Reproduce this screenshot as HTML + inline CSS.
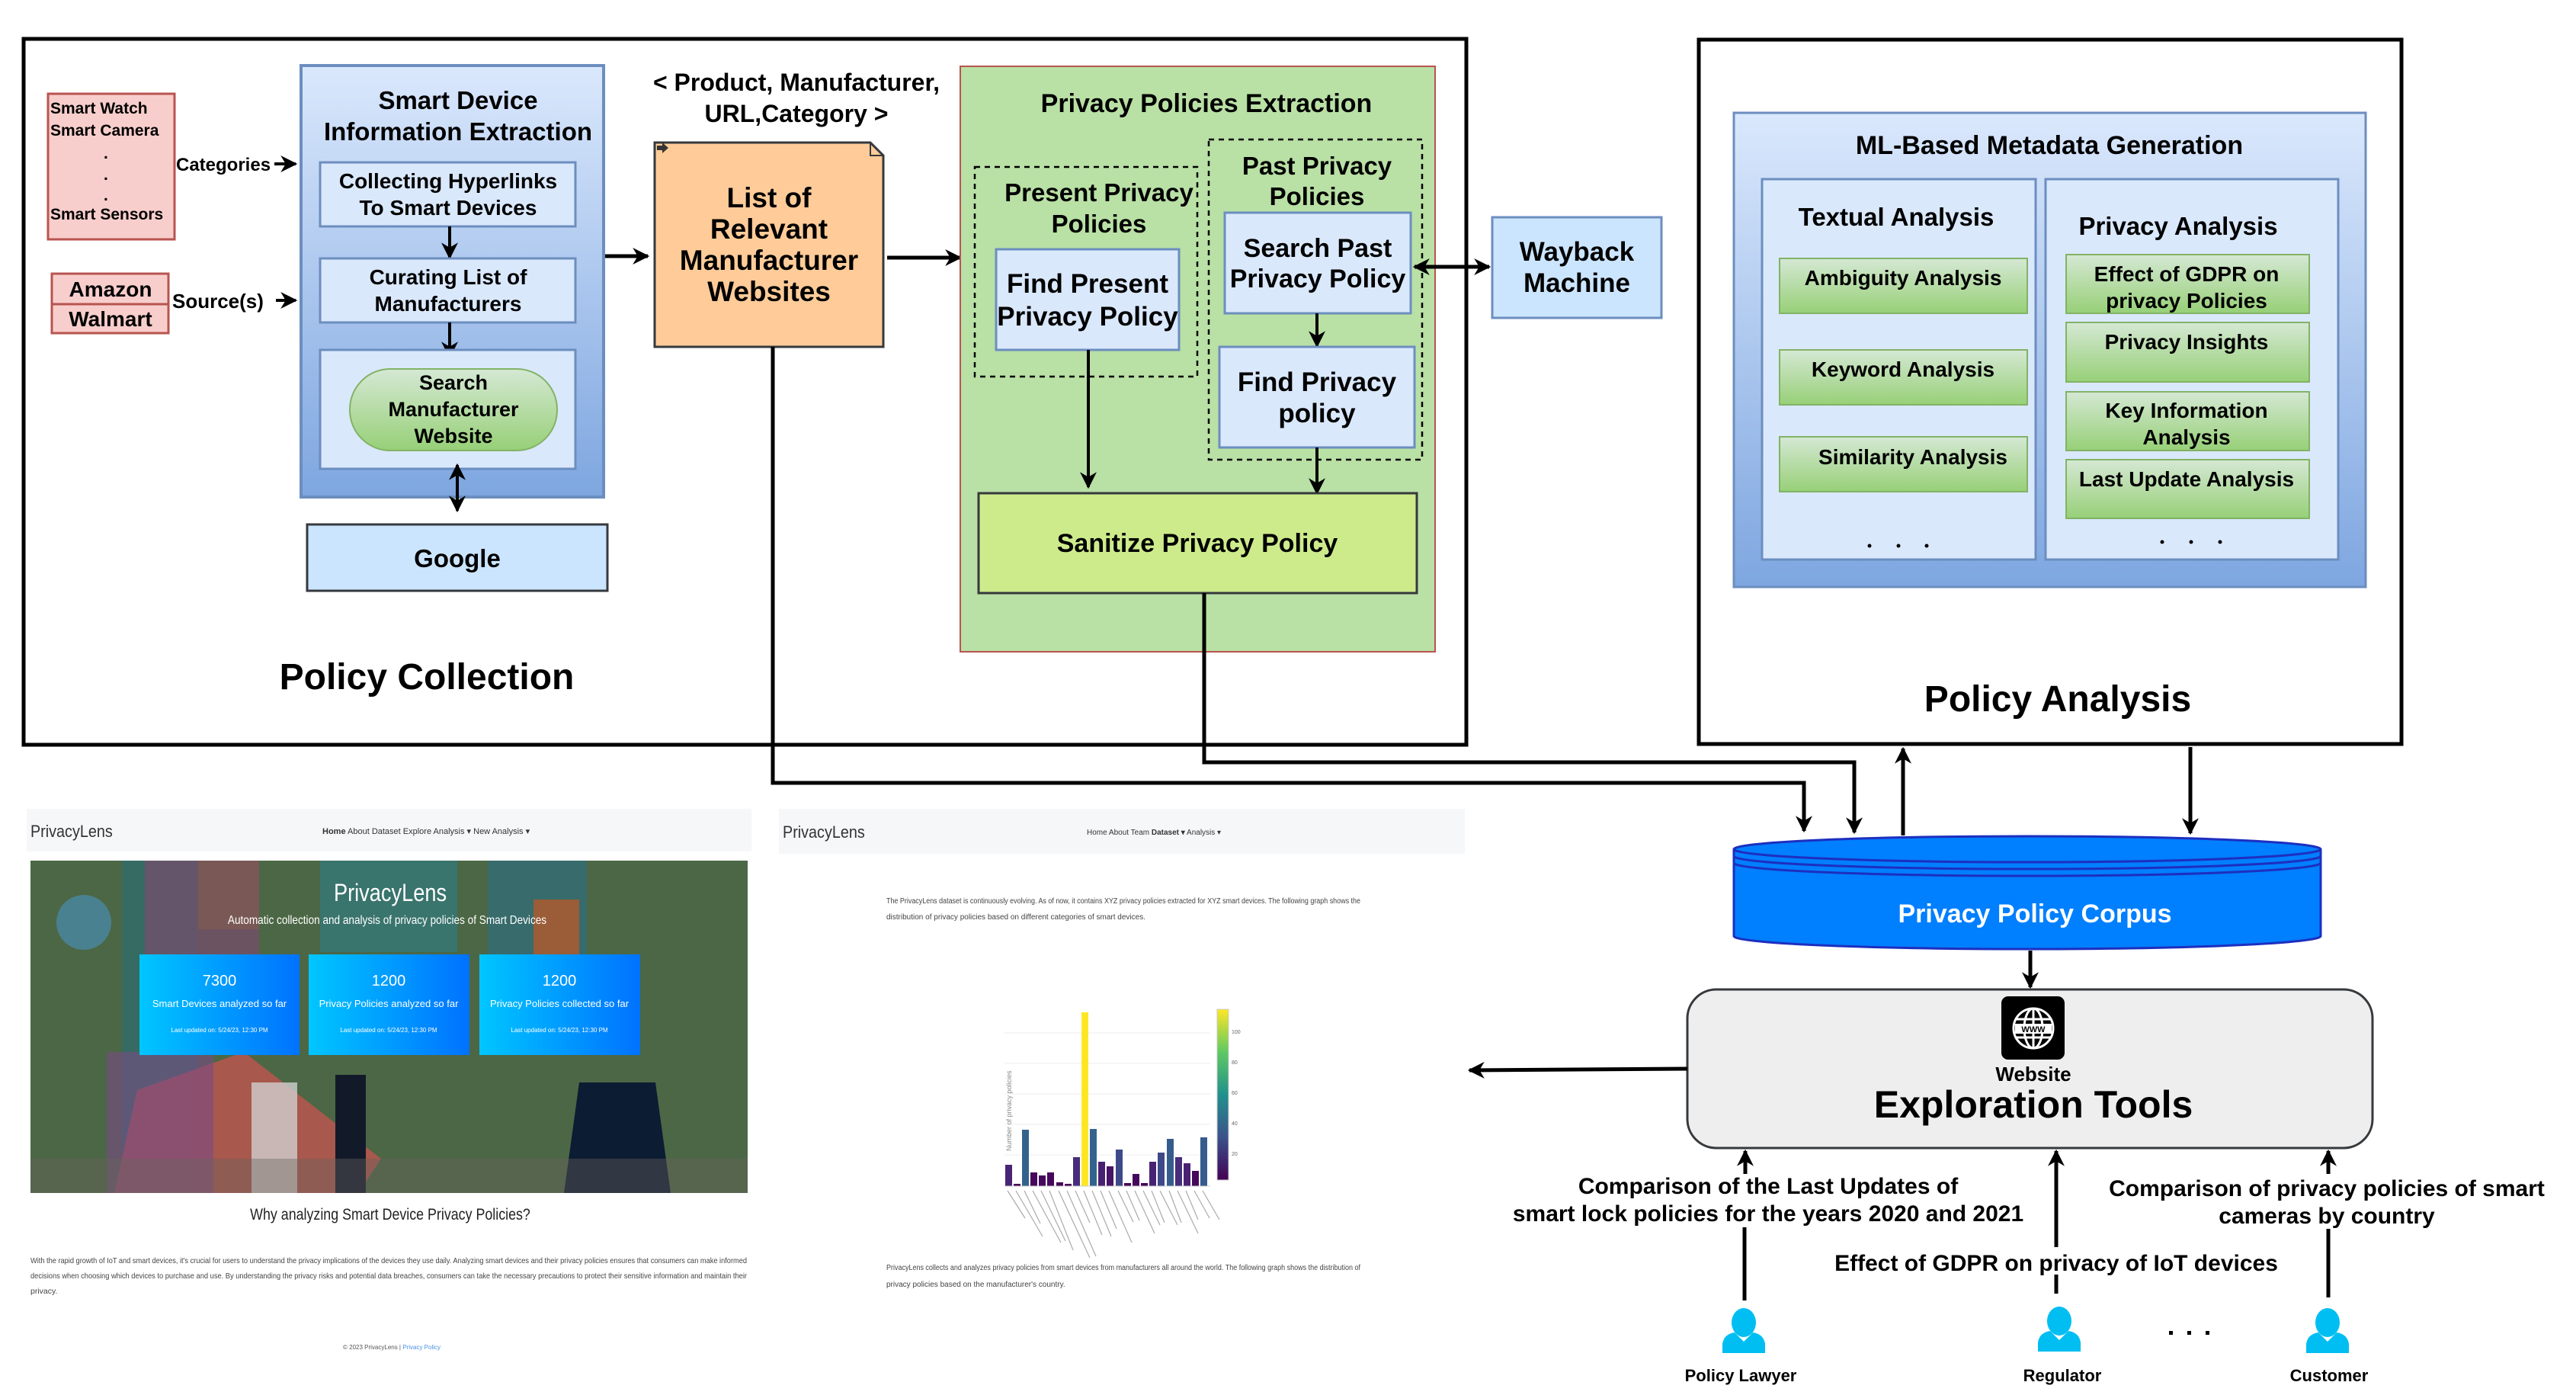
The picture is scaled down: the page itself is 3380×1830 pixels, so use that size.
<!DOCTYPE html>
<html><head><meta charset="utf-8">
<style>
html,body{margin:0;padding:0;background:#fff;}
svg{display:block;}
text{font-family:"Liberation Sans",Arial,sans-serif;}
.b{font-weight:bold;}
</style></head>
<body>
<svg width="3380" height="1830" viewBox="0 0 3380 1830" xmlns="http://www.w3.org/2000/svg">
<defs>
<marker id="ah" markerWidth="10" markerHeight="10" refX="8" refY="5" orient="auto" markerUnits="userSpaceOnUse" viewBox="0 0 10 10">
</marker>
<marker id="a" viewBox="0 0 20 20" refX="18" refY="10" markerWidth="22" markerHeight="22" orient="auto-start-reverse" markerUnits="userSpaceOnUse">
<path d="M0,0 L20,10 L0,20 L6,10 Z" fill="#000"/>
</marker>
<linearGradient id="gBlue" x1="0" y1="0" x2="0" y2="1"><stop offset="0" stop-color="#dae8fc"/><stop offset="1" stop-color="#7ea6e0"/></linearGradient>
<linearGradient id="gGreen" x1="0" y1="0" x2="0" y2="1"><stop offset="0" stop-color="#d5e8d4"/><stop offset="1" stop-color="#97d077"/></linearGradient>
<linearGradient id="gCard" x1="0" y1="0" x2="1" y2="0"><stop offset="0" stop-color="#00c6ff"/><stop offset="1" stop-color="#0072ff"/></linearGradient>
<linearGradient id="gViridis" x1="0" y1="1" x2="0" y2="0"><stop offset="0" stop-color="#440154"/><stop offset="0.25" stop-color="#3b528b"/><stop offset="0.5" stop-color="#21918c"/><stop offset="0.75" stop-color="#5ec962"/><stop offset="1" stop-color="#fde725"/></linearGradient>
</defs>

<!-- ========== POLICY COLLECTION ========== -->
<rect x="31" y="51" width="1893" height="926" fill="#fff" stroke="#000" stroke-width="5"/>

<!-- pink categories -->
<rect x="63" y="123" width="166" height="191" fill="#f8cecc" stroke="#b85450" stroke-width="3"/>
<g class="b" font-size="21">
<text x="66" y="149" class="b">Smart Watch</text>
<text x="66" y="178" class="b">Smart Camera</text>
<text x="136" y="208" class="b">.</text>
<text x="136" y="236" class="b">.</text>
<text x="136" y="263" class="b">.</text>
<text x="66" y="288" class="b">Smart Sensors</text>
</g>
<rect x="68" y="359" width="153" height="40" fill="#f8cecc" stroke="#b85450" stroke-width="3"/>
<rect x="68" y="399" width="153" height="38" fill="#f8cecc" stroke="#b85450" stroke-width="3"/>
<text x="145" y="389" font-size="28" text-anchor="middle" class="b">Amazon</text>
<text x="145" y="428" font-size="28" text-anchor="middle" class="b">Walmart</text>
<text x="231" y="224" font-size="24" class="b">Categories</text>
<line x1="360" y1="215" x2="388" y2="215" stroke="#000" stroke-width="4" marker-end="url(#a)"/>
<text x="226" y="404" font-size="26" class="b">Source(s)</text>
<line x1="362" y1="394" x2="388" y2="394" stroke="#000" stroke-width="4" marker-end="url(#a)"/>

<!-- Smart device info extraction -->
<rect x="395" y="86" width="397" height="566" fill="url(#gBlue)" stroke="#6c8ebf" stroke-width="4"/>
<text x="601" y="143" font-size="33" text-anchor="middle" class="b">Smart Device</text>
<text x="601" y="184" font-size="33" text-anchor="middle" class="b">Information Extraction</text>
<rect x="420" y="213" width="335" height="84" fill="#dae8fc" stroke="#6c8ebf" stroke-width="3"/>
<text x="588" y="247" font-size="28" text-anchor="middle" class="b">Collecting Hyperlinks</text>
<text x="588" y="282" font-size="28" text-anchor="middle" class="b">To Smart Devices</text>
<line x1="590" y1="297" x2="590" y2="338" stroke="#000" stroke-width="4" marker-end="url(#a)"/>
<rect x="420" y="339" width="335" height="84" fill="#dae8fc" stroke="#6c8ebf" stroke-width="3"/>
<text x="588" y="373" font-size="28" text-anchor="middle" class="b">Curating List of</text>
<text x="588" y="408" font-size="28" text-anchor="middle" class="b">Manufacturers</text>
<line x1="590" y1="423" x2="590" y2="468" stroke="#000" stroke-width="4" marker-end="url(#a)"/>
<rect x="420" y="459" width="335" height="156" fill="#dae8fc" stroke="#6c8ebf" stroke-width="3"/>
<rect x="459" y="484" width="272" height="107" rx="53" ry="53" fill="url(#gGreen)" stroke="#82b366" stroke-width="2"/>
<text x="595" y="511" font-size="27" text-anchor="middle" class="b">Search</text>
<text x="595" y="546" font-size="27" text-anchor="middle" class="b">Manufacturer</text>
<text x="595" y="581" font-size="27" text-anchor="middle" class="b">Website</text>
<line x1="600" y1="610" x2="600" y2="670" stroke="#000" stroke-width="4" marker-end="url(#a)" marker-start="url(#a)"/>
<rect x="403" y="688" width="394" height="87" fill="#cce5ff" stroke="#36393d" stroke-width="3"/>
<text x="600" y="744" font-size="33" text-anchor="middle" class="b">Google</text>

<line x1="794" y1="336" x2="850" y2="336" stroke="#000" stroke-width="5" marker-end="url(#a)"/>

<!-- list doc -->
<text x="1045" y="119" font-size="32" text-anchor="middle" class="b">&lt; Product, Manufacturer,</text>
<text x="1045" y="160" font-size="32" text-anchor="middle" class="b">URL,Category &gt;</text>
<path d="M859,187 H1142 L1159,204 V455 H859 Z" fill="#ffcc99" stroke="#36393d" stroke-width="3"/>
<path d="M1142,187 V204 H1159" fill="none" stroke="#36393d" stroke-width="2"/>
<path d="M862,191 h7 v-4 l8,7 -8,7 v-4 h-7 z" fill="#333"/>
<text x="1009" y="272" font-size="37" text-anchor="middle" class="b">List of</text>
<text x="1009" y="313" font-size="37" text-anchor="middle" class="b">Relevant</text>
<text x="1009" y="354" font-size="37" text-anchor="middle" class="b">Manufacturer</text>
<text x="1009" y="395" font-size="37" text-anchor="middle" class="b">Websites</text>
<line x1="1164" y1="338" x2="1260" y2="338" stroke="#000" stroke-width="5" marker-end="url(#a)"/>

<!-- Privacy policies extraction -->
<rect x="1260" y="87" width="623" height="768" fill="#b9e0a5" stroke="#b85450" stroke-width="2"/>
<text x="1583" y="147" font-size="34" text-anchor="middle" class="b">Privacy Policies Extraction</text>
<rect x="1279" y="219" width="292" height="275" fill="none" stroke="#000" stroke-width="2.5" stroke-dasharray="7,6"/>
<text x="1442" y="264" font-size="33" text-anchor="middle" class="b">Present Privacy</text>
<text x="1442" y="305" font-size="33" text-anchor="middle" class="b">Policies</text>
<rect x="1307" y="327" width="240" height="132" fill="#dae8fc" stroke="#6c8ebf" stroke-width="3"/>
<text x="1427" y="384" font-size="35" text-anchor="middle" class="b">Find Present</text>
<text x="1427" y="427" font-size="35" text-anchor="middle" class="b">Privacy Policy</text>
<rect x="1586" y="183" width="280" height="420" fill="none" stroke="#000" stroke-width="2.5" stroke-dasharray="7,6"/>
<text x="1728" y="229" font-size="33" text-anchor="middle" class="b">Past Privacy</text>
<text x="1728" y="269" font-size="33" text-anchor="middle" class="b">Policies</text>
<rect x="1607" y="279" width="244" height="132" fill="#dae8fc" stroke="#6c8ebf" stroke-width="3"/>
<text x="1729" y="337" font-size="34" text-anchor="middle" class="b">Search Past</text>
<text x="1729" y="377" font-size="34" text-anchor="middle" class="b">Privacy Policy</text>
<line x1="1728" y1="411" x2="1728" y2="454" stroke="#000" stroke-width="4" marker-end="url(#a)"/>
<rect x="1600" y="455" width="256" height="132" fill="#dae8fc" stroke="#6c8ebf" stroke-width="3"/>
<text x="1728" y="513" font-size="35" text-anchor="middle" class="b">Find Privacy</text>
<text x="1728" y="554" font-size="35" text-anchor="middle" class="b">policy</text>
<line x1="1428" y1="459" x2="1428" y2="639" stroke="#000" stroke-width="4" marker-end="url(#a)"/>
<line x1="1728" y1="587" x2="1728" y2="647" stroke="#000" stroke-width="4" marker-end="url(#a)"/>
<rect x="1284" y="647" width="575" height="131" fill="#cdeb8b" stroke="#36393d" stroke-width="3"/>
<text x="1571" y="724" font-size="34" text-anchor="middle" class="b">Sanitize Privacy Policy</text>

<!-- Wayback -->
<line x1="1856" y1="350" x2="1954" y2="350" stroke="#000" stroke-width="5" marker-end="url(#a)" marker-start="url(#a)"/>
<rect x="1958" y="285" width="222" height="132" fill="#cce5ff" stroke="#6c8ebf" stroke-width="3"/>
<text x="2069" y="342" font-size="35" text-anchor="middle" class="b">Wayback</text>
<text x="2069" y="383" font-size="35" text-anchor="middle" class="b">Machine</text>

<text x="560" y="904" font-size="48" text-anchor="middle" class="b">Policy Collection</text>

<!-- ========== POLICY ANALYSIS ========== -->
<rect x="2229" y="52" width="922" height="924" fill="#fff" stroke="#000" stroke-width="5"/>
<rect x="2275" y="148" width="829" height="622" fill="url(#gBlue)" stroke="#6c8ebf" stroke-width="3"/>
<text x="2689" y="202" font-size="34" text-anchor="middle" class="b">ML-Based Metadata Generation</text>
<rect x="2312" y="235" width="359" height="499" fill="#dae8fc" stroke="#6c8ebf" stroke-width="3"/>
<rect x="2684" y="235" width="384" height="499" fill="#dae8fc" stroke="#6c8ebf" stroke-width="3"/>
<text x="2488" y="296" font-size="33" text-anchor="middle" class="b">Textual Analysis</text>
<text x="2858" y="308" font-size="33" text-anchor="middle" class="b">Privacy Analysis</text>
<g stroke="#82b366" stroke-width="2" fill="url(#gGreen)">
<rect x="2335" y="339" width="325" height="72"/>
<rect x="2335" y="459" width="325" height="72"/>
<rect x="2335" y="573" width="325" height="72"/>
<rect x="2711" y="334" width="319" height="77"/>
<rect x="2711" y="423" width="319" height="78"/>
<rect x="2711" y="514" width="319" height="77"/>
<rect x="2711" y="603" width="319" height="77"/>
</g>
<g font-size="28" text-anchor="middle" class="b">
<text x="2497" y="374" class="b">Ambiguity Analysis</text>
<text x="2497" y="494" class="b">Keyword Analysis</text>
<text x="2510" y="609" class="b">Similarity Analysis</text>
<text x="2869" y="369" class="b">Effect of GDPR on</text>
<text x="2869" y="404" class="b">privacy Policies</text>
<text x="2869" y="458" class="b">Privacy Insights</text>
<text x="2869" y="548" class="b">Key Information</text>
<text x="2869" y="583" class="b">Analysis</text>
<text x="2869" y="638" class="b">Last Update Analysis</text>
</g>
<g fill="#000"><circle cx="2453" cy="716" r="2.5"/><circle cx="2491" cy="716" r="2.5"/><circle cx="2528" cy="716" r="2.5"/>
<circle cx="2837" cy="711" r="2.5"/><circle cx="2875" cy="711" r="2.5"/><circle cx="2913" cy="711" r="2.5"/></g>
<text x="2700" y="933" font-size="48" text-anchor="middle" class="b">Policy Analysis</text>

<!-- connectors to corpus -->
<polyline points="1014,455 1014,1027 2367,1027 2367,1090" fill="none" stroke="#000" stroke-width="5" marker-end="url(#a)"/>
<polyline points="1580,778 1580,1000 2433,1000 2433,1092" fill="none" stroke="#000" stroke-width="5" marker-end="url(#a)"/>
<line x1="2497" y1="1096" x2="2497" y2="982" stroke="#000" stroke-width="5" marker-end="url(#a)"/>
<line x1="2874" y1="980" x2="2874" y2="1093" stroke="#000" stroke-width="5" marker-end="url(#a)"/>

<!-- corpus cylinder -->
<path d="M2275,1114 V1228 A385,17 0 0 0 3045,1228 V1114 A385,17 0 0 0 2275,1114 Z" fill="#007fff" stroke="#1d2fbf" stroke-width="3"/>
<path d="M2275,1114 A385,17 0 0 0 3045,1114" fill="none" stroke="#1d2fbf" stroke-width="3"/>
<path d="M2275,1123 A385,17 0 0 0 3045,1123" fill="none" stroke="#1d2fbf" stroke-width="3"/>
<path d="M2275,1132 A385,17 0 0 0 3045,1132" fill="none" stroke="#1d2fbf" stroke-width="3"/>
<text x="2670" y="1210" font-size="34" text-anchor="middle" class="b" fill="#fff">Privacy Policy Corpus</text>
<line x1="2664" y1="1247" x2="2664" y2="1295" stroke="#000" stroke-width="5" marker-end="url(#a)"/>

<!-- exploration tools -->
<rect x="2214" y="1298" width="899" height="208" rx="38" ry="38" fill="#eeeeee" stroke="#36393d" stroke-width="3"/>
<rect x="2626" y="1307" width="83" height="83" rx="9" fill="#000"/>
<g fill="none" stroke="#fff" stroke-width="3">
<circle cx="2668" cy="1349" r="26"/>
<ellipse cx="2668" cy="1349" rx="12" ry="26"/>
<line x1="2668" y1="1323" x2="2668" y2="1375"/>
<line x1="2645" y1="1337" x2="2691" y2="1337"/>
<line x1="2645" y1="1361" x2="2691" y2="1361"/>
</g>
<rect x="2644" y="1343" width="48" height="13" fill="#fff"/>
<text x="2668" y="1354" font-size="11" text-anchor="middle" class="b">WWW</text>
<text x="2668" y="1418" font-size="26" text-anchor="middle" class="b">Website</text>
<text x="2668" y="1466" font-size="50" text-anchor="middle" class="b">Exploration Tools</text>
<line x1="2214" y1="1402" x2="1928" y2="1404" stroke="#000" stroke-width="5" marker-end="url(#a)"/>

<!-- users -->
<g stroke="#000" stroke-width="5" fill="none">
<line x1="2290" y1="1540" x2="2290" y2="1510" marker-end="url(#a)"/>
<line x1="2289" y1="1610" x2="2289" y2="1706"/>
<line x1="2698" y1="1636" x2="2698" y2="1510" marker-end="url(#a)"/>
<line x1="2698" y1="1672" x2="2698" y2="1697"/>
<line x1="3055" y1="1540" x2="3055" y2="1510" marker-end="url(#a)"/>
<line x1="3055" y1="1612" x2="3055" y2="1702"/>
</g>
<g font-size="30" text-anchor="middle" class="b">
<text x="2320" y="1566" class="b">Comparison of the Last Updates of</text>
<text x="2320" y="1602" class="b">smart lock policies for the years 2020 and 2021</text>
<text x="3053" y="1569" class="b">Comparison of privacy policies of smart</text>
<text x="3053" y="1605" class="b">cameras by country</text>
<text x="2698" y="1667" class="b">Effect of GDPR on privacy of IoT devices</text>
</g>
<g fill="#00bef2">
<ellipse cx="2288" cy="1735" rx="16" ry="19"/>
<path d="M2260,1775 V1763 Q2262,1750 2276,1748 L2288,1760 L2300,1748 Q2314,1750 2316,1763 V1775 Z"/>
<ellipse cx="2702" cy="1733" rx="16" ry="19"/>
<path d="M2674,1773 V1761 Q2676,1748 2690,1746 L2702,1758 L2714,1746 Q2728,1748 2730,1761 V1773 Z"/>
<ellipse cx="3054" cy="1735" rx="16" ry="19"/>
<path d="M3026,1775 V1763 Q3028,1750 3042,1748 L3054,1760 L3066,1748 Q3080,1750 3082,1763 V1775 Z"/>
</g>
<g fill="#000"><rect x="2846" y="1746" width="5" height="5"/><rect x="2870" y="1746" width="5" height="5"/><rect x="2894" y="1746" width="5" height="5"/></g>
<g font-size="22" text-anchor="middle" class="b">
<text x="2284" y="1812" class="b">Policy Lawyer</text>
<text x="2706" y="1812" class="b">Regulator</text>
<text x="3056" y="1812" class="b">Customer</text>
</g>

<!-- ========== SCREENSHOT 1 ========== -->
<rect x="35" y="1061" width="951" height="56" fill="#f6f7f8"/>
<text x="40" y="1098" font-size="22" fill="#333" transform="translate(40,0) scale(0.9,1) translate(-40,0)">PrivacyLens</text>
<text x="423" y="1094" font-size="11" fill="#333"><tspan font-weight="bold">Home</tspan>  About  Dataset  Explore  Analysis ▾  New Analysis ▾</text>
<rect x="40" y="1129" width="941" height="436" fill="#4f6a49"/>
<rect x="40" y="1129" width="941" height="436" fill="#4b6645" opacity="0.8"/>
<rect x="160" y="1129" width="100" height="436" fill="#2f6d6a" opacity="0.8"/>
<rect x="190" y="1129" width="150" height="180" fill="#7a4b6e" opacity="0.7"/>
<rect x="260" y="1129" width="80" height="90" fill="#7d5a52" opacity="0.8"/>
<rect x="420" y="1129" width="180" height="120" fill="#2d7d89" opacity="0.6"/>
<rect x="640" y="1129" width="130" height="230" fill="#2f6e7e" opacity="0.7"/>
<rect x="700" y="1180" width="60" height="140" fill="#b35a2b" opacity="0.8"/>
<path d="M180,1430 L320,1380 L500,1520 L470,1565 L150,1565 Z" fill="#b8564e" opacity="0.85"/>
<rect x="140" y="1380" width="140" height="185" fill="#7a4b86" opacity="0.6"/>
<rect x="330" y="1420" width="60" height="145" fill="#cfcfcf" opacity="0.8"/>
<rect x="440" y="1410" width="40" height="155" fill="#121a2a"/>
<path d="M760,1420 L860,1420 L880,1565 L740,1565 Z" fill="#0c1c33"/>
<circle cx="110" cy="1210" r="36" fill="#4a8db0" opacity="0.7"/>
<rect x="40" y="1520" width="941" height="45" fill="#6a6460" opacity="0.4"/>
<text x="512" y="1182" font-size="32" text-anchor="middle" fill="#fff" transform="translate(512,0) scale(0.85,1) translate(-512,0)">PrivacyLens</text>
<text x="508" y="1212" font-size="16" text-anchor="middle" fill="#fff" transform="translate(508,0) scale(0.85,1) translate(-508,0)">Automatic collection and analysis of privacy policies of Smart Devices</text>
<rect x="183" y="1252" width="210" height="132" fill="url(#gCard)"/>
<rect x="405" y="1252" width="211" height="132" fill="url(#gCard)"/>
<rect x="629" y="1252" width="211" height="132" fill="url(#gCard)"/>
<g fill="#fff" text-anchor="middle">
<text x="288" y="1293" font-size="20">7300</text>
<text x="288" y="1321" font-size="13">Smart Devices analyzed so far</text>
<text x="288" y="1354" font-size="8">Last updated on: 5/24/23, 12:30 PM</text>
<text x="510" y="1293" font-size="20">1200</text>
<text x="510" y="1321" font-size="13">Privacy Policies analyzed so far</text>
<text x="510" y="1354" font-size="8">Last updated on: 5/24/23, 12:30 PM</text>
<text x="734" y="1293" font-size="20">1200</text>
<text x="734" y="1321" font-size="13">Privacy Policies collected so far</text>
<text x="734" y="1354" font-size="8">Last updated on: 5/24/23, 12:30 PM</text>
</g>
<text x="512" y="1600" font-size="21" text-anchor="middle" fill="#222" transform="translate(512,0) scale(0.85,1) translate(-512,0)">Why analyzing Smart Device Privacy Policies?</text>
<g font-size="10.5" fill="#444">
<text x="40" y="1657" textLength="940" lengthAdjust="spacingAndGlyphs">With the rapid growth of IoT and smart devices, it's crucial for users to understand the privacy implications of the devices they use daily. Analyzing smart devices and their privacy policies ensures that consumers can make informed</text>
<text x="40" y="1677" textLength="940" lengthAdjust="spacingAndGlyphs">decisions when choosing which devices to purchase and use. By understanding the privacy risks and potential data breaches, consumers can take the necessary precautions to protect their sensitive information and maintain their</text>
<text x="40" y="1697">privacy.</text>
</g>
<text x="450" y="1770" font-size="8" fill="#555">© 2023 PrivacyLens | <tspan fill="#4a90e2">Privacy Policy</tspan></text>

<!-- ========== SCREENSHOT 2 ========== -->
<rect x="1022" y="1061" width="900" height="59" fill="#f6f7f8"/>
<text x="1027" y="1099" font-size="22" fill="#333" transform="translate(1027,0) scale(0.9,1) translate(-1027,0)">PrivacyLens</text>
<text x="1426" y="1095" font-size="10" fill="#333">Home  About  Team  <tspan font-weight="bold">Dataset ▾</tspan>  Analysis ▾</text>
<g font-size="10" fill="#444">
<text x="1163" y="1185" textLength="622" lengthAdjust="spacingAndGlyphs">The PrivacyLens dataset is continuously evolving. As of now, it contains XYZ privacy policies extracted for XYZ smart devices. The following graph shows the</text>
<text x="1163" y="1206">distribution of privacy policies based on different categories of smart devices.</text>
<text x="1163" y="1666" textLength="622" lengthAdjust="spacingAndGlyphs">PrivacyLens collects and analyzes privacy policies from smart devices from manufacturers all around the world. The following graph shows the distribution of</text>
<text x="1163" y="1688">privacy policies based on the manufacturer's country.</text>
</g>
<g stroke="#eee" stroke-width="1">
<line x1="1318" y1="1355" x2="1588" y2="1355"/><line x1="1318" y1="1395" x2="1588" y2="1395"/><line x1="1318" y1="1435" x2="1588" y2="1435"/><line x1="1318" y1="1475" x2="1588" y2="1475"/><line x1="1318" y1="1515" x2="1588" y2="1515"/>
</g>
<text x="0" y="0" font-size="9" fill="#888" transform="translate(1327,1510) rotate(-90)">Number of privacy policies</text>
<g>
<rect x="1319" y="1528" width="9" height="28" fill="#482475"/>
<rect x="1330" y="1553" width="9" height="3" fill="#440154"/>
<rect x="1341" y="1482" width="9" height="74" fill="#33638d"/>
<rect x="1352" y="1538" width="9" height="18" fill="#46085c"/>
<rect x="1363" y="1542" width="9" height="14" fill="#46085c"/>
<rect x="1374" y="1538" width="9" height="18" fill="#46085c"/>
<rect x="1386" y="1551" width="9" height="5" fill="#440154"/>
<rect x="1397" y="1553" width="9" height="3" fill="#440154"/>
<rect x="1408" y="1518" width="9" height="38" fill="#472d7b"/>
<rect x="1419" y="1328" width="9" height="228" fill="#fde725"/>
<rect x="1430" y="1481" width="9" height="75" fill="#33638d"/>
<rect x="1441" y="1524" width="9" height="32" fill="#482173"/>
<rect x="1452" y="1530" width="9" height="26" fill="#481467"/>
<rect x="1464" y="1508" width="9" height="48" fill="#3e4989"/>
<rect x="1475" y="1552" width="9" height="4" fill="#440154"/>
<rect x="1486" y="1540" width="9" height="16" fill="#46085c"/>
<rect x="1497" y="1552" width="9" height="4" fill="#440154"/>
<rect x="1508" y="1524" width="9" height="32" fill="#482173"/>
<rect x="1519" y="1512" width="9" height="44" fill="#3e4989"/>
<rect x="1531" y="1494" width="9" height="62" fill="#365c8d"/>
<rect x="1542" y="1518" width="9" height="38" fill="#472d7b"/>
<rect x="1553" y="1526" width="9" height="30" fill="#482173"/>
<rect x="1564" y="1536" width="9" height="20" fill="#46085c"/>
<rect x="1575" y="1492" width="9" height="64" fill="#365c8d"/>
</g>
<line x1="1318" y1="1556" x2="1588" y2="1556" stroke="#ccc" stroke-width="1"/>
<rect x="1597" y="1324" width="15" height="224" fill="url(#gViridis)" stroke="#ccc" stroke-width="1"/>
<g font-size="7" fill="#666"><text x="1616" y="1356">100</text><text x="1616" y="1396">80</text><text x="1616" y="1436">60</text><text x="1616" y="1476">40</text><text x="1616" y="1516">20</text></g>
<g stroke="#aaa" stroke-width="1.2">
<line x1="1322" y1="1562" x2="1345" y2="1598"/><line x1="1333" y1="1562" x2="1368" y2="1622"/><line x1="1344" y1="1562" x2="1365" y2="1605"/><line x1="1355" y1="1562" x2="1392" y2="1630"/><line x1="1366" y1="1562" x2="1398" y2="1628"/><line x1="1377" y1="1562" x2="1408" y2="1640"/><line x1="1389" y1="1562" x2="1430" y2="1650"/><line x1="1400" y1="1562" x2="1438" y2="1648"/><line x1="1411" y1="1562" x2="1430" y2="1604"/><line x1="1422" y1="1562" x2="1446" y2="1620"/><line x1="1433" y1="1562" x2="1458" y2="1622"/><line x1="1444" y1="1562" x2="1465" y2="1612"/><line x1="1455" y1="1562" x2="1485" y2="1630"/><line x1="1467" y1="1562" x2="1487" y2="1603"/><line x1="1478" y1="1562" x2="1495" y2="1601"/><line x1="1489" y1="1562" x2="1515" y2="1618"/><line x1="1500" y1="1562" x2="1522" y2="1607"/><line x1="1511" y1="1562" x2="1528" y2="1604"/><line x1="1522" y1="1562" x2="1545" y2="1607"/><line x1="1534" y1="1562" x2="1550" y2="1604"/><line x1="1545" y1="1562" x2="1572" y2="1618"/><line x1="1556" y1="1562" x2="1572" y2="1600"/><line x1="1567" y1="1562" x2="1587" y2="1598"/><line x1="1578" y1="1562" x2="1600" y2="1600"/>
</g>
</svg>
</body></html>
